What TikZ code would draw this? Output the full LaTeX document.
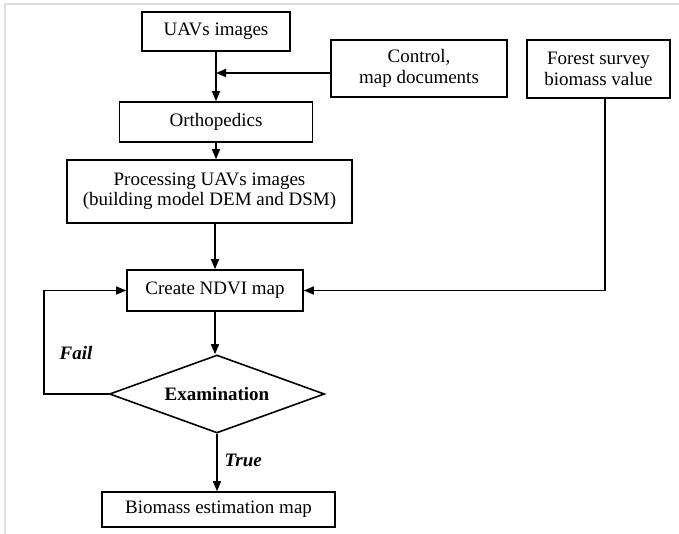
\documentclass[tikz,border=0pt]{standalone}
\usepackage{fontspec}
\setmainfont{Liberation Serif}
\usetikzlibrary{arrows.meta,shapes.geometric}
\begin{document}
\begin{tikzpicture}[
                x=1pt, y=-1pt,
                bioFrame/.style={draw=black!13,line width=1.4pt},
                bioBox/.style={draw=black,line width=1.6pt,inner sep=0pt,
                               align=center,font=\fontsize{19}{20.5}\selectfont},
                bioDecision/.style={diamond,draw=black,line width=1.6pt,inner sep=0pt,
                                    aspect=2.75,minimum width=215pt,minimum height=78pt,
                                    font=\fontsize{19}{21}\selectfont\bfseries},
                bioArrow/.style={draw=black,line width=1.5pt,
                                 -{Triangle[length=10pt,width=8pt]}},
                bioLabel/.style={font=\fontsize{19}{21}\selectfont\bfseries\itshape}]
                \useasboundingbox (0,0) rectangle (679,534);
                \draw[bioFrame] (5,534) -- (5,4) -- (679,4);
                \node[bioBox,minimum width=148pt,minimum height=39pt] (uav) at (216,31.5) {UAVs images};
                \node[bioBox,minimum width=176pt,minimum height=57pt] (control) at (419,68.5) {Control,\\map documents};
                \node[bioBox,minimum width=143pt,minimum height=58pt] (forest) at (598.5,69) {Forest survey\\biomass value};
                \node[bioBox,minimum width=193pt,minimum height=40pt] (ortho) at (216,122) {Orthopedics};
                \node[bioBox,minimum width=285pt,minimum height=63pt] (proc) at (209.5,191.5) {Processing UAVs images\\(building model DEM and DSM)};
                \node[bioBox,minimum width=176pt,minimum height=41pt] (ndvi) at (215,290.5) {Create NDVI map};
                \node[bioDecision] (exam) at (217,394) {Examination};
                \node[bioBox,minimum width=233pt,minimum height=35pt] (biomass) at (218.5,509.5) {Biomass estimation map};
                \coordinate (ctrlJoin) at (216,73);
                \coordinate (forestFoot) at (605,98);
                \coordinate (failTurn) at (44,0);
                \draw[bioArrow] (uav.south) -- (ortho.north);
                \draw[bioArrow] (control.west |- ctrlJoin) -- (ctrlJoin);
                \draw[bioArrow] (ortho.south) -- (proc.north -| ortho.south);
                \draw[bioArrow] (proc.south -| ndvi.north) -- (ndvi.north);
                \draw[bioArrow] (forestFoot) |- (ndvi.east);
                \draw[bioArrow] (ndvi.south) -- (ndvi.south |- exam.north);
                \draw[bioArrow] (exam.west) -| (failTurn |- ndvi.west) -- (ndvi.west);
                \draw[bioArrow] (exam.south) -- (exam.south |- biomass.north);
                \node[bioLabel] (failLbl) at (76,353) {Fail};
                \node[bioLabel,anchor=west] (trueLbl) at (221,460) {True};
            \end{tikzpicture}
\end{document}
